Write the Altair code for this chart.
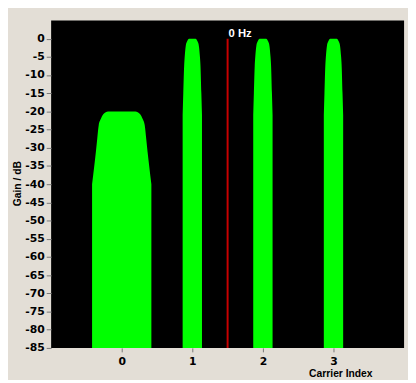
import altair as alt
import pandas as pd

# Carrier data
carrier_index = [0, 1, 2, 3]
peak_gain = [-20, 0, 0, 0]
profile_kind = ["wide", "narrow", "narrow", "narrow"]

# Spectral shape profiles: drop below peak (dB) and half-width (carrier index units)
wide_drop = [0, 0.7, 2.1, 3.8, 7.5, 11.1, 15, 20]
wide_halfwidth = [0.194, 0.259, 0.297, 0.326, 0.347, 0.366, 0.389, 0.42]
narrow_drop = [0, 0.8, 2, 5, 7.6, 15, 21]
narrow_halfwidth = [0.046, 0.075, 0.093, 0.108, 0.116, 0.128, 0.137]

y_ticks = list(range(0, -90, -5))
x_ticks = [0, 1, 2, 3]
floor_db = -85
marker_pos = 1.5
marker_label = "0 Hz"

rows = []
for c, pk, kind in zip(carrier_index, peak_gain, profile_kind):
    drops, hws = (wide_drop, wide_halfwidth) if kind == "wide" else (narrow_drop, narrow_halfwidth)
    left = [(c - hw, pk - d) for d, hw in zip(drops, hws)][::-1]
    right = [(c + hw, pk - d) for d, hw in zip(drops, hws)]
    for xv, g in left + right:
        rows.append({"carrier": c, "x": xv, "gain": g, "base": floor_db})
df = pd.DataFrame(rows)

xscale = alt.Scale(domain=[-1, 4], nice=False, zero=False)
yscale = alt.Scale(domain=[-85, 5], nice=False, zero=False)

lab_font = "DejaVu Sans"
title_font = "Liberation Sans"

x_axis = alt.Axis(values=x_ticks, format="d", title="Carrier Index", grid=False, domain=False,
                  labelOverlap=False,
                  labelFont=lab_font, labelFontWeight="bold", labelFontSize=11,
                  labelColor="black", labelPadding=4, tickSize=4, tickColor="#777777",
                  titleFont=title_font, titleFontWeight="bold", titleFontSize=10.5,
                  titleColor="black", titleX=295, titleY=26,
                  titleAlign="center", titleBaseline="middle")
y_axis = alt.Axis(values=y_ticks, title="Gain / dB", grid=False, domain=False,
                  labelOverlap=False,
                  labelFont=lab_font, labelFontWeight="bold", labelFontSize=11,
                  labelColor="black", labelPadding=2, tickSize=5, tickColor="#777777",
                  labelExpr="'' + datum.value",
                  titleFont=title_font, titleFontWeight="bold", titleFontSize=10.5,
                  titleColor="black", titleAngle=270, titleX=-34, titleY=166,
                  titleAlign="center", titleBaseline="middle")

layers = []
for c in carrier_index:
    layers.append(
        alt.Chart(df).transform_filter(alt.datum.carrier == c)
        .mark_area(color="#00FF00", strokeWidth=0, interpolate="monotone")
        .encode(
            x=alt.X("x:Q", scale=xscale, axis=x_axis),
            y=alt.Y("gain:Q", scale=yscale, axis=y_axis, stack=None),
            y2="base:Q",
        )
    )

marker_df = pd.DataFrame({"x": [marker_pos], "top": [0], "bottom": [floor_db], "label": [marker_label]})
rule = alt.Chart(marker_df).mark_rule(color="#C80000", strokeWidth=2).encode(
    x=alt.X("x:Q", scale=xscale, axis=x_axis),
    y=alt.Y("top:Q", scale=yscale, axis=y_axis),
    y2="bottom:Q",
)
text = alt.Chart(marker_df).mark_text(
    color="white", font=title_font, fontWeight="bold", fontSize=11.5,
    align="left", baseline="alphabetic", dx=1, dy=-2
).encode(
    x=alt.X("x:Q", scale=xscale, axis=x_axis),
    y=alt.Y("top:Q", scale=yscale, axis=y_axis),
    text="label:N",
)

chart = alt.layer(*layers, rule, text).properties(
    width=360, height=334,
    autosize=alt.AutoSizeParams(type="none"),
    padding={"left": 44, "top": 9, "right": 4, "bottom": 29},
    background="#E3DED6",
).configure_view(fill="black", strokeWidth=0).configure_axis(labelOverlap=False)

chart.save("out.html", embed_options={"renderer": "svg", "actions": False})
